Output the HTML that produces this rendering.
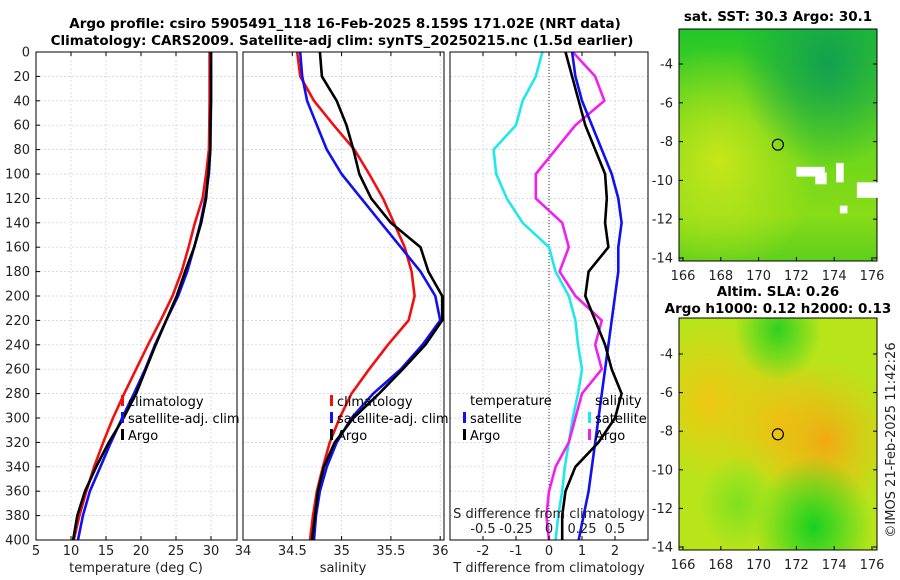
<!DOCTYPE html>
<html><head><meta charset="utf-8"><style>
html,body{margin:0;padding:0;background:#fff;}
svg{display:block;font-family:"DejaVu Sans","Liberation Sans",sans-serif;}
</style></head><body>
<svg id="fig" width="900" height="580" viewBox="0 0 900 580">
<defs>
<radialGradient id="m1yellow" cx="0.2" cy="0.57" r="0.5"><stop offset="0" stop-color="#c8e61a"/><stop offset="1" stop-color="#c8e61a" stop-opacity="0"/></radialGradient>
<radialGradient id="m1teal" cx="0.75" cy="0.15" r="0.45"><stop offset="0" stop-color="#12a050"/><stop offset="1" stop-color="#12a050" stop-opacity="0"/></radialGradient>
<linearGradient id="m1base" x1="0" y1="0" x2="0" y2="1"><stop offset="0" stop-color="#22c62a"/><stop offset="0.4" stop-color="#5fd41c"/><stop offset="0.8" stop-color="#88dc18"/><stop offset="1" stop-color="#5ed01c"/></linearGradient>
<radialGradient id="m2or1" cx="0.74" cy="0.53" r="0.35"><stop offset="0" stop-color="#f2a812"/><stop offset="1" stop-color="#f2c010" stop-opacity="0"/></radialGradient>
<radialGradient id="m2or3" cx="0.5" cy="0.45" r="0.3"><stop offset="0" stop-color="#f0c012"/><stop offset="1" stop-color="#f0c012" stop-opacity="0"/></radialGradient>
<radialGradient id="m2or2" cx="0.16" cy="0.36" r="0.35"><stop offset="0" stop-color="#f0c812"/><stop offset="1" stop-color="#f0c812" stop-opacity="0"/></radialGradient>
<radialGradient id="m2gr1" cx="0.68" cy="0.9" r="0.3"><stop offset="0" stop-color="#18d020"/><stop offset="1" stop-color="#18d020" stop-opacity="0"/></radialGradient>
<radialGradient id="m2gr2" cx="0.5" cy="0.05" r="0.22"><stop offset="0" stop-color="#30d020"/><stop offset="1" stop-color="#30d020" stop-opacity="0"/></radialGradient>
<radialGradient id="m2gr3" cx="0.3" cy="0.8" r="0.2"><stop offset="0" stop-color="#80e020"/><stop offset="1" stop-color="#80e020" stop-opacity="0"/></radialGradient>
</defs>
<g id="g"></g>
</svg>
<script>
// ---- data ----
const depths = [0,20,40,60,80,100,120,140,160,180,200,220,240,260,280,300,320,340,360,380,400];
const tempClim = [29.8,29.8,29.8,29.75,29.7,29.3,28.8,27.7,26.8,25.8,24.5,22.8,21.0,19.3,17.6,16.0,14.6,13.3,12.2,11.2,10.4];
const tempSat  = [30.0,30.0,30.0,29.95,29.9,29.7,29.2,28.5,27.6,26.6,25.3,23.6,22.0,20.6,19.0,17.3,15.7,14.2,12.7,11.7,11.0];
const tempArgo = [30.0,30.0,30.0,29.9,29.9,29.6,29.3,28.6,27.6,26.3,25.1,23.6,22.1,20.7,19.3,17.5,15.4,13.6,12.0,10.9,10.3];
const salClim = [34.55,34.58,34.72,34.92,35.13,35.28,35.42,35.53,35.64,35.71,35.74,35.68,35.47,35.28,35.10,34.98,34.88,34.81,34.75,34.71,34.68];
const salSat  = [34.58,34.6,34.65,34.75,34.85,35.0,35.2,35.4,35.6,35.8,35.95,36.0,35.82,35.6,35.32,35.1,34.95,34.85,34.78,34.74,34.72];
const salArgo = [34.78,34.8,34.95,35.05,35.12,35.18,35.3,35.5,35.8,35.88,36.02,36.02,35.85,35.62,35.38,35.12,34.93,34.82,34.76,34.73,34.70];
const tDiffSat  = [0.7,0.8,1.0,1.3,1.6,1.9,2.1,2.2,2.1,2.1,2.0,1.9,1.8,1.7,1.6,1.5,1.4,1.3,1.2,1.05,0.9];
const tDiffArgo = [0.5,0.7,0.9,1.1,1.4,1.7,1.75,1.7,1.8,1.2,1.1,1.4,1.7,1.9,2.2,2.0,1.5,0.8,0.5,0.4,0.4];
const sDiffSat  = [-0.05,-0.1,-0.2,-0.25,-0.42,-0.4,-0.32,-0.2,0.0,0.05,0.15,0.2,0.22,0.25,0.22,0.18,0.15,0.12,0.1,0.07,0.05];
const sDiffArgo = [0.18,0.35,0.42,0.2,0.05,-0.1,-0.1,0.1,0.15,0.08,0.2,0.4,0.35,0.4,0.25,0.2,0.15,0.05,0.0,-0.02,0.0];
const depthTicks = [0,20,40,60,80,100,120,140,160,180,200,220,240,260,280,300,320,340,360,380,400];
const tempTicks = [5,10,15,20,25,30];
const salTicks = [34,34.5,35,35.5,36];
const tdTicks = [-2,-1,0,1,2];
const sdTicks = [-0.5,-0.25,0,0.25,0.5];
const lonTicks = [166,168,170,172,174,176];
const latTicks = [-4,-6,-8,-10,-12,-14];

const NS="http://www.w3.org/2000/svg";
const G=document.getElementById('g');
function el(tag,attrs,parent,text){const e=document.createElementNS(NS,tag);for(const k in attrs)e.setAttribute(k,attrs[k]);if(text!==undefined)e.textContent=text;(parent||G).appendChild(e);return e;}

const TOP=52, BOT=540;
const yD = d => TOP + d/400*(BOT-TOP);

function panel(name,x0,x1,xs,xt){
  const p=el('g',{});
  
  
  depthTicks.forEach(d=>{el('line',{x1:x0,x2:x1,y1:yD(d),y2:yD(d),stroke:'#c8cce8','stroke-width':0.7,'stroke-dasharray':'2,2'},p);});
  xt.forEach(v=>{const x=xs(v);if(x>x0+1&&x<x1-1)el('line',{x1:x,x2:x,y1:TOP,y2:BOT,stroke:'#c8cce8','stroke-width':0.7,'stroke-dasharray':'2,2'},p);});
  return p;
}
function frame(p,x0,x1){el('rect',{x:x0,y:TOP,width:x1-x0,height:BOT-TOP,fill:'none',stroke:'#000','stroke-width':1},p);}
function line(p,vals,xs,color,name,w){
  const pts=vals.map((v,i)=>xs(v).toFixed(1)+','+yD(depths[i]).toFixed(1)).join(' ');
  const l=el('polyline',{points:pts,fill:'none',stroke:color,'stroke-width':w||2.6,'stroke-linejoin':'round'},p);
  
  
}
function legend(p,x,y,items){
  items.forEach((it,i)=>{
    el('rect',{x:x,y:y+i*17-6,width:3,height:11,fill:it[1]},p);
    el('text',{x:x+7,y:y+i*17+5,'font-size':13},p,it[0]);
  });
}
function xticks(p,x0,x1,xs,ticks,ylab){
  ticks.forEach(v=>{const x=xs(v);
    el('line',{x1:x,x2:x,y1:BOT,y2:BOT-4,stroke:'#000'},p);
    el('line',{x1:x,x2:x,y1:TOP,y2:TOP+4,stroke:'#000'},p);
    el('text',{x:x,y:ylab,'font-size':13,'text-anchor':'middle',fill:'#222'},p,String(v));});
}

// Panel 1 temperature
const xT = v => 36 + (v-5)*7.0;
let p1=panel('temperature-panel',36,237,xT,tempTicks);
depthTicks.forEach(d=>{el('text',{x:30,y:yD(d)+4.5,'font-size':13,'text-anchor':'end',fill:'#222'},p1,String(d));
  el('line',{x1:36,x2:40,y1:yD(d),y2:yD(d),stroke:'#000'},p1);});
line(p1,tempClim,xT,'#f01010','temp-climatology-line');
line(p1,tempSat,xT,'#1010f0','temp-satellite-line');
line(p1,tempArgo,xT,'#000','temp-argo-line');
frame(p1,36,237);
xticks(p1,36,237,xT,tempTicks,555);
el('text',{x:136,y:572,'font-size':13,'text-anchor':'middle',fill:'#222'},p1,'temperature (deg C)');
legend(p1,121,401,[['climatology','#f01010'],['satellite-adj. clim','#1010f0'],['Argo','#000']]);

// Panel 2 salinity
const xS = v => 243 + (v-34)*98.6;
let p2=panel('salinity-panel',243,444,xS,salTicks);
line(p2,salClim,xS,'#f01010','sal-climatology-line');
line(p2,salSat,xS,'#1010f0','sal-satellite-line');
line(p2,salArgo,xS,'#000','sal-argo-line');
frame(p2,243,444);
xticks(p2,243,444,xS,salTicks,555);
el('text',{x:343,y:572,'font-size':13,'text-anchor':'middle',fill:'#222'},p2,'salinity');
legend(p2,330,401,[['climatology','#f01010'],['satellite-adj. clim','#1010f0'],['Argo','#000']]);

// Panel 3 differences
const xTD = v => 549 + v*33;
const xSD = v => 549 + v*132;
let p3=panel('difference-panel',450,648,xTD,tdTicks);
el('line',{x1:549,x2:549,y1:TOP,y2:BOT,stroke:'#333','stroke-width':1,'stroke-dasharray':'1,2'},p3);
line(p3,sDiffSat,xSD,'#20e8e8','sal-diff-satellite-line');
line(p3,sDiffArgo,xSD,'#f020f0','sal-diff-argo-line');
line(p3,tDiffSat,xTD,'#1010f0','temp-diff-satellite-line');
line(p3,tDiffArgo,xTD,'#000','temp-diff-argo-line');
frame(p3,450,648);
xticks(p3,450,648,xTD,tdTicks,555);
el('text',{x:549,y:572,'font-size':13,'text-anchor':'middle',fill:'#222'},p3,'T difference from climatology');
el('text',{x:549,y:518,'font-size':13,'text-anchor':'middle',fill:'#222'},p3,'S difference from climatology');
sdTicks.forEach(v=>{el('text',{x:xSD(v),y:533,'font-size':13,'text-anchor':'middle',fill:'#222'},p3,String(v));});
el('text',{x:470,y:405,'font-size':13},p3,'temperature');
el('text',{x:595,y:405,'font-size':13},p3,'salinity');
legend(p3,463,418,[['satellite','#1010f0'],['Argo','#000']]);
legend(p3,588,418,[['satellite','#20e8e8'],['Argo','#f020f0']]);

// Titles
el('text',{x:345,y:28,'font-size':13.5,'font-weight':'bold','text-anchor':'middle'},G,'Argo profile: csiro 5905491_118 16-Feb-2025 8.159S 171.02E (NRT data)');
el('text',{x:342,y:45,'font-size':13.5,'font-weight':'bold','text-anchor':'middle'},G,'Climatology: CARS2009. Satellite-adj clim: synTS_20250215.nc (1.5d earlier)');

// Maps
const lonX = v => 683 + (v-166)*18.9;
function map(name,y0,latY,fills){
  const m=el('g',{});
  
  
  fills.forEach(f=>el('rect',{x:679,y:y0,width:198,height:232,fill:f},m));
  el('circle',{cx:lonX(171.02),cy:latY(-8.159),r:5.5,fill:'none',stroke:'#000','stroke-width':1.2},m);
  el('rect',{x:679,y:y0,width:198,height:232,fill:'none',stroke:'#000'},m);
  lonTicks.forEach(v=>{el('line',{x1:lonX(v),x2:lonX(v),y1:y0+232,y2:y0+228,stroke:'#000'},m);
    el('text',{x:lonX(v),y:y0+251,'font-size':13,'text-anchor':'middle',fill:'#222'},m,String(v));});
  latTicks.forEach(v=>{el('line',{x1:679,x2:683,y1:latY(v),y2:latY(v),stroke:'#000'},m);
    el('line',{x1:877,x2:873,y1:latY(v),y2:latY(v),stroke:'#000'},m);
    el('text',{x:673,y:latY(v)+4.5,'font-size':13,'text-anchor':'end',fill:'#222'},m,String(v));});
  return m;
}
const m1=map('sst-map',29,v=>64+(-4-v)*19.4,['url(#m1base)','url(#m1yellow)','url(#m1teal)']);
[[172,-9.3,1.5,0.5],[173,-9.6,0.6,0.6],[174.1,-9.1,0.4,1],[175.2,-10.1,1.1,0.8],[174.3,-11.3,0.4,0.4]].forEach(c=>{
  el('rect',{x:lonX(c[0]),y:64+(-4-c[1])*19.4,width:c[2]*18.9,height:c[3]*19.4,fill:'#fff'},m1);});
const m2=map('sla-map',318,v=>354+(-4-v)*19.3,['#b8e41a','url(#m2or2)','url(#m2or3)','url(#m2or1)','url(#m2gr1)','url(#m2gr2)','url(#m2gr3)']);
el('text',{x:778,y:21,'font-size':13.5,'font-weight':'bold','text-anchor':'middle'},G,'sat. SST: 30.3 Argo: 30.1');
el('text',{x:778,y:296,'font-size':13.5,'font-weight':'bold','text-anchor':'middle'},G,'Altim. SLA: 0.26');
el('text',{x:778,y:313,'font-size':13.5,'font-weight':'bold','text-anchor':'middle'},G,'Argo h1000: 0.12 h2000: 0.13');
el('text',{x:0,y:0,'font-size':13,'text-anchor':'middle',fill:'#222',transform:'translate(895,440) rotate(-90)'},G,'©IMOS 21-Feb-2025 11:42:26');
</script>
</body></html>
